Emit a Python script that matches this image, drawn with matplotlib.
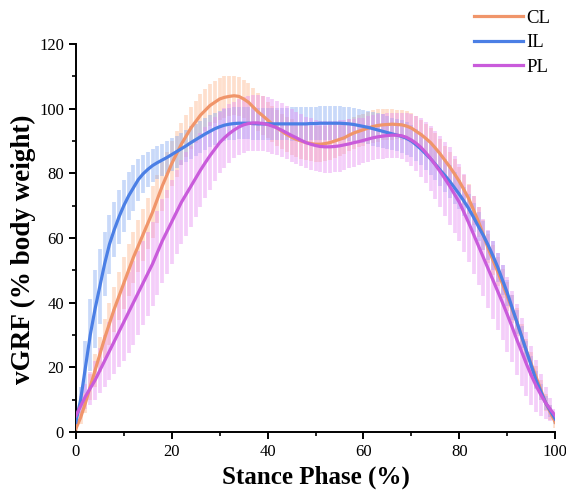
import matplotlib
matplotlib.use("Agg")
import matplotlib.pyplot as plt
import numpy as np

plt.rcParams['font.family'] = ['Liberation Serif', 'DejaVu Serif']

phase = np.arange(0, 101)

cl_mean = [1, 4.5, 9, 14, 19, 24, 29, 33.5, 38, 42,
           46, 50, 54, 57.5, 61, 64.5, 68, 72, 76, 79.5,
           83, 86, 89, 91.5, 94, 96, 98, 99.5, 101, 102,
           103, 103.5, 103.8, 104, 103.8, 103, 102, 100.5, 99, 97.8,
           96.5, 95.2, 94, 93, 92, 91.2, 90.5, 90, 89.5, 89.2,
           89, 89, 89.2, 89.5, 90, 90.5, 91, 91.8, 92.5, 93,
           93.5, 94, 94.5, 94.8, 95, 95.1, 95.2, 95.1, 95, 94.6,
           94, 93, 92, 90.8, 89.5, 87.8, 86, 84, 82, 79.8,
           77.5, 74.8, 72, 68.5, 65, 61, 56.8, 53.2, 49.6, 45.8,
           42, 38, 34, 29.5, 25, 21, 17, 13, 9, 6,
           3]
cl_sd = [1, 2, 3, 4, 5, 5.5, 6, 6.5, 7, 7.5,
         8, 8, 8, 8, 8, 8, 8, 7.5, 7.5, 7,
         7, 7, 6.5, 6.5, 6.5, 6.5, 6.5, 6.5, 6.5, 6.5,
         6.5, 6.5, 6.2, 6, 6, 6, 6, 6, 6, 6,
         5.5, 5.5, 5.5, 5.5, 5.5, 5.5, 5.5, 5.5, 5.5, 5.5,
         5.5, 5.5, 5.5, 5.5, 5.2, 5, 5, 5, 5, 5,
         5, 5, 5, 5, 4.8, 4.8, 4.8, 4.6, 4.6, 4.6,
         4.6, 4.6, 4.6, 4.6, 4.6, 4.6, 4.6, 4.6, 4.6, 4.6,
         4.6, 4.6, 4.6, 4.6, 4.6, 4.6, 4.5, 4.5, 4.5, 4.5,
         4.5, 4.3, 4.2, 4, 3.8, 3.6, 3.3, 3, 2.6, 2.2,
         1.8]

il_mean = [3, 10, 20, 30, 38, 45, 52, 58, 62.5, 66.5,
           70, 73, 75.5, 78, 79.8, 81.2, 82.4, 83.3, 84.1, 84.9,
           85.8, 86.7, 87.6, 88.5, 89.5, 90.4, 91.3, 92.2, 93, 93.8,
           94.4, 94.9, 95.2, 95.4, 95.5, 95.5, 95.5, 95.4, 95.3, 95.3,
           95.3, 95.3, 95.3, 95.3, 95.3, 95.3, 95.3, 95.3, 95.3, 95.4,
           95.4, 95.5, 95.5, 95.5, 95.5, 95.5, 95.4, 95.3, 95.1, 94.8,
           94.5, 94.2, 93.8, 93.4, 93, 92.6, 92.2, 91.8, 91.4, 90.8,
           90, 88.8, 87.5, 86, 84.5, 82.8, 81, 79.3, 77.5, 75.5,
           73.5, 71.3, 69, 66.3, 63.5, 60.8, 57.8, 54.5, 51, 47,
           43, 38.5, 34, 29.5, 25, 20.5, 16, 12.5, 9, 6.5,
           4]
il_sd = [1, 4, 8, 11, 12, 11.5, 10, 9, 8.5, 8.5,
         8, 7.5, 7, 6.5, 6, 5.5, 5.2, 5, 5, 5,
         5, 5, 5, 5, 5, 5, 5, 5, 5, 5,
         5, 5, 5, 5, 5, 5, 5, 5, 5, 5,
         5, 5, 5, 5, 5, 5.2, 5.2, 5.2, 5.2, 5.2,
         5.2, 5.2, 5.2, 5.2, 5.2, 5.2, 5.2, 5.2, 5.2, 5.2,
         5.2, 5.2, 5.2, 5.2, 5.2, 5, 5, 5, 5, 5,
         5, 5, 5, 5, 5, 5, 5, 5, 5, 5,
         4.5, 4.5, 4.5, 4.5, 4.5, 4.5, 4.5, 4.5, 4.5, 4.5,
         4, 3.8, 3.6, 3.4, 3.2, 3, 2.8, 2.5, 2.2, 1.8,
         1.5]

pl_mean = [5, 8, 11, 13.5, 16, 19, 22, 25, 28, 31,
           34, 37, 40, 43, 46, 49, 52, 55.5, 59, 62,
           65, 68, 71, 73.5, 76, 78.5, 81, 83.3, 85.5, 87.5,
           89.5, 91, 92.3, 93.4, 94.3, 95, 95.4, 95.6, 95.6, 95.4,
           95.1, 94.6, 94, 93.3, 92.5, 91.7, 91, 90.2, 89.5, 89,
           88.6, 88.3, 88.2, 88.2, 88.3, 88.5, 88.8, 89.1, 89.5, 89.8,
           90.2, 90.6, 91, 91.3, 91.5, 91.7, 91.8, 91.8, 91.6, 91.1,
           90.3, 89.3, 88, 86.4, 84.6, 82.6, 80.5, 78.3, 76, 73.5,
           71, 67.8, 64.5, 61, 57.5, 54, 50.5, 47, 43.5, 40,
           36.3, 32.5, 28.5, 24.8, 21, 17.5, 14.3, 11.5, 9, 7,
           5]
pl_sd = [2, 3, 4, 5, 6, 7, 8, 9, 10, 11,
         12, 12.5, 13, 13, 13, 13, 13, 13, 13, 13,
         13, 13, 13, 13, 12.5, 12, 11.5, 11, 10.5, 10,
         9.5, 9.2, 9, 8.8, 8.7, 8.6, 8.6, 8.6, 8.6, 8.6,
         8.5, 8.5, 8.4, 8.3, 8.2, 8.1, 8, 8, 8, 8,
         8, 8, 8, 8, 8, 8, 7.8, 7.6, 7.4, 7.2,
         7, 7, 7, 7, 7, 7, 7, 7, 7.2, 7.5,
         8, 8.5, 9, 9.5, 10, 10.5, 11, 11.5, 12, 12,
         12, 12, 12, 12, 12, 12, 12, 12, 12, 11.5,
         11.5, 11, 11, 10.5, 10, 9, 8, 6.5, 5, 3.5,
         2]

labels = ['CL', 'IL', 'PL']
line_colors = ['#F0956A', '#4B7FE5', '#C95BDB']
bar_colors = ['#FDB58A', '#7FA6F2', '#E68BF2']
means = [cl_mean, il_mean, pl_mean]
sds = [cl_sd, il_sd, pl_sd]

fig = plt.figure(figsize=(5.66, 5.0), dpi=100)
ax = fig.add_axes([0.134, 0.136, 0.847, 0.776])

for m, s, c in zip(means, sds, bar_colors):
    m = np.array(m)
    s = np.array(s)
    ax.vlines(phase, m - s, m + s, colors=c, alpha=0.42, linewidth=2.7, zorder=1)

handles = []
for m, c, lab in zip(means, line_colors, labels):
    h, = ax.plot(phase, m, color=c, linewidth=2.3, label=lab, zorder=3)
    handles.append(h)

ax.set_xlim(0, 100)
ax.set_ylim(0, 120)
ax.set_xticks([0, 20, 40, 60, 80, 100])
ax.set_xticks([10, 30, 50, 70, 90], minor=True)
ax.set_yticks([0, 20, 40, 60, 80, 100, 120])
ax.set_yticks([10, 30, 50, 70, 90, 110], minor=True)
ax.spines['top'].set_visible(False)
ax.spines['right'].set_visible(False)
for sp in ['left', 'bottom']:
    ax.spines[sp].set_linewidth(1.4)
ax.tick_params(which='major', direction='out', length=5, width=1.4, labelsize=12)
ax.tick_params(which='minor', direction='out', length=3, width=1.2)

ax.set_xlabel('Stance Phase (%)', fontsize=18, fontweight='bold', labelpad=4)
ax.set_ylabel('vGRF (% body weight)', fontsize=19.5, fontweight='bold')
ax.yaxis.set_label_coords(-0.083, 0.47)

fig.legend(handles=handles, labels=labels, loc='upper left',
           bbox_to_anchor=(0.808, 1.015), frameon=False, fontsize=13.5,
           handlelength=2.6, handletextpad=0.2, labelspacing=0.4)

fig.savefig('out.png', dpi=100)
